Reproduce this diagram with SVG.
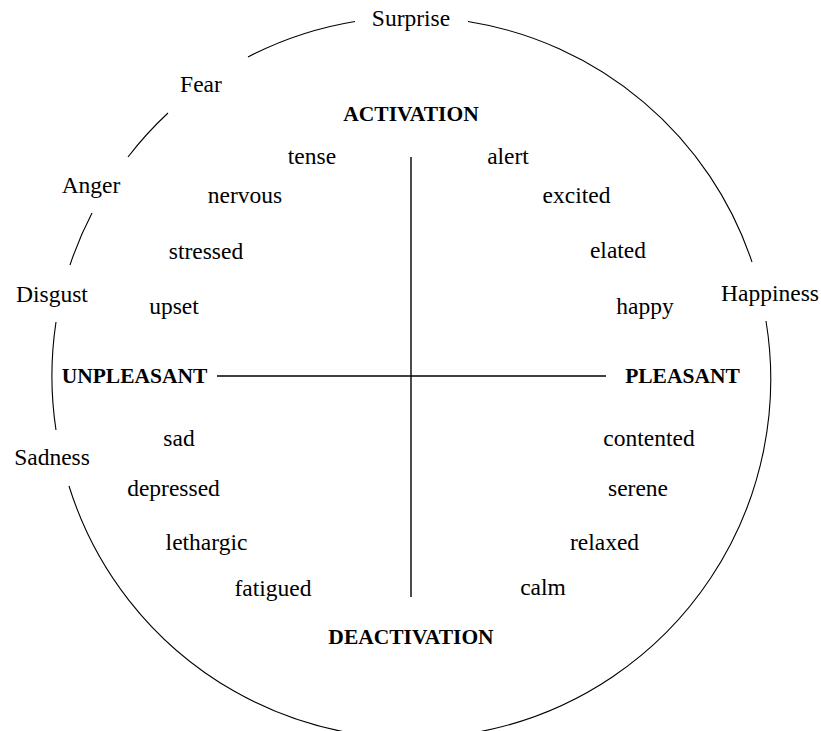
<svg xmlns="http://www.w3.org/2000/svg" width="821" height="731" viewBox="0 0 821 731">
  <style>
    text { font-family: "Liberation Serif", "Times New Roman", serif; fill: #000; text-anchor: middle; }
    .emo { font-size: 23.5px; }
    .axis { font-size: 21.5px; font-weight: bold; }
    .rim { fill: none; stroke: #000; stroke-width: 1.1; }
    .ax { stroke: #000; stroke-width: 1.4; fill: none; }
  </style>
  <rect width="821" height="731" fill="#fff"/>

  <!-- outer circle, broken where the basic emotions sit on it -->
  <g id="rim" class="rim">
    <path d="M468,21.5 A359,359 0 0 1 752,262"/>
    <path d="M766,321 A359,359 0 0 1 69,486"/>
    <path d="M56,430 A359,359 0 0 1 56,322"/>
    <path d="M70,265 A359,359 0 0 1 92,213"/>
    <path d="M128,157 A359,359 0 0 1 168,113"/>
    <path d="M248,57 A359,359 0 0 1 355,21.5"/>
  </g>

  <!-- the two axes -->
  <g id="connectors">
    <line class="ax" x1="411" y1="157" x2="411" y2="597"/>
    <line class="ax" x1="217" y1="376" x2="606" y2="376"/>
  </g>

  <!-- axis poles -->
  <g id="activation"><text class="axis" x="411" y="121">ACTIVATION</text></g>
  <g id="deactivation"><text class="axis" x="411" y="644">DEACTIVATION</text></g>
  <g id="unpleasant"><text class="axis" x="134.5" y="383">UNPLEASANT</text></g>
  <g id="pleasant"><text class="axis" x="682.5" y="383">PLEASANT</text></g>

  <!-- basic emotions on the rim -->
  <g id="surprise"><text class="emo" x="411" y="26">Surprise</text></g>
  <g id="fear"><text class="emo" x="201" y="92">Fear</text></g>
  <g id="anger"><text class="emo" x="91" y="193">Anger</text></g>
  <g id="disgust"><text class="emo" x="52" y="302">Disgust</text></g>
  <g id="sadness"><text class="emo" x="52" y="465">Sadness</text></g>
  <g id="happiness"><text class="emo" x="770" y="301">Happiness</text></g>

  <!-- core affect terms, left half -->
  <g id="tense"><text class="emo" x="312" y="164">tense</text></g>
  <g id="nervous"><text class="emo" x="245" y="203">nervous</text></g>
  <g id="stressed"><text class="emo" x="206" y="259">stressed</text></g>
  <g id="upset"><text class="emo" x="174" y="314">upset</text></g>
  <g id="sad"><text class="emo" x="179" y="446">sad</text></g>
  <g id="depressed"><text class="emo" x="173.5" y="496">depressed</text></g>
  <g id="lethargic"><text class="emo" x="206.5" y="550">lethargic</text></g>
  <g id="fatigued"><text class="emo" x="273" y="596">fatigued</text></g>

  <!-- core affect terms, right half -->
  <g id="alert"><text class="emo" x="508" y="164">alert</text></g>
  <g id="excited"><text class="emo" x="576.5" y="203">excited</text></g>
  <g id="elated"><text class="emo" x="618" y="258">elated</text></g>
  <g id="happy"><text class="emo" x="645" y="314">happy</text></g>
  <g id="contented"><text class="emo" x="649" y="446">contented</text></g>
  <g id="serene"><text class="emo" x="638" y="496">serene</text></g>
  <g id="relaxed"><text class="emo" x="604.5" y="550">relaxed</text></g>
  <g id="calm"><text class="emo" x="543" y="595">calm</text></g>
</svg>
